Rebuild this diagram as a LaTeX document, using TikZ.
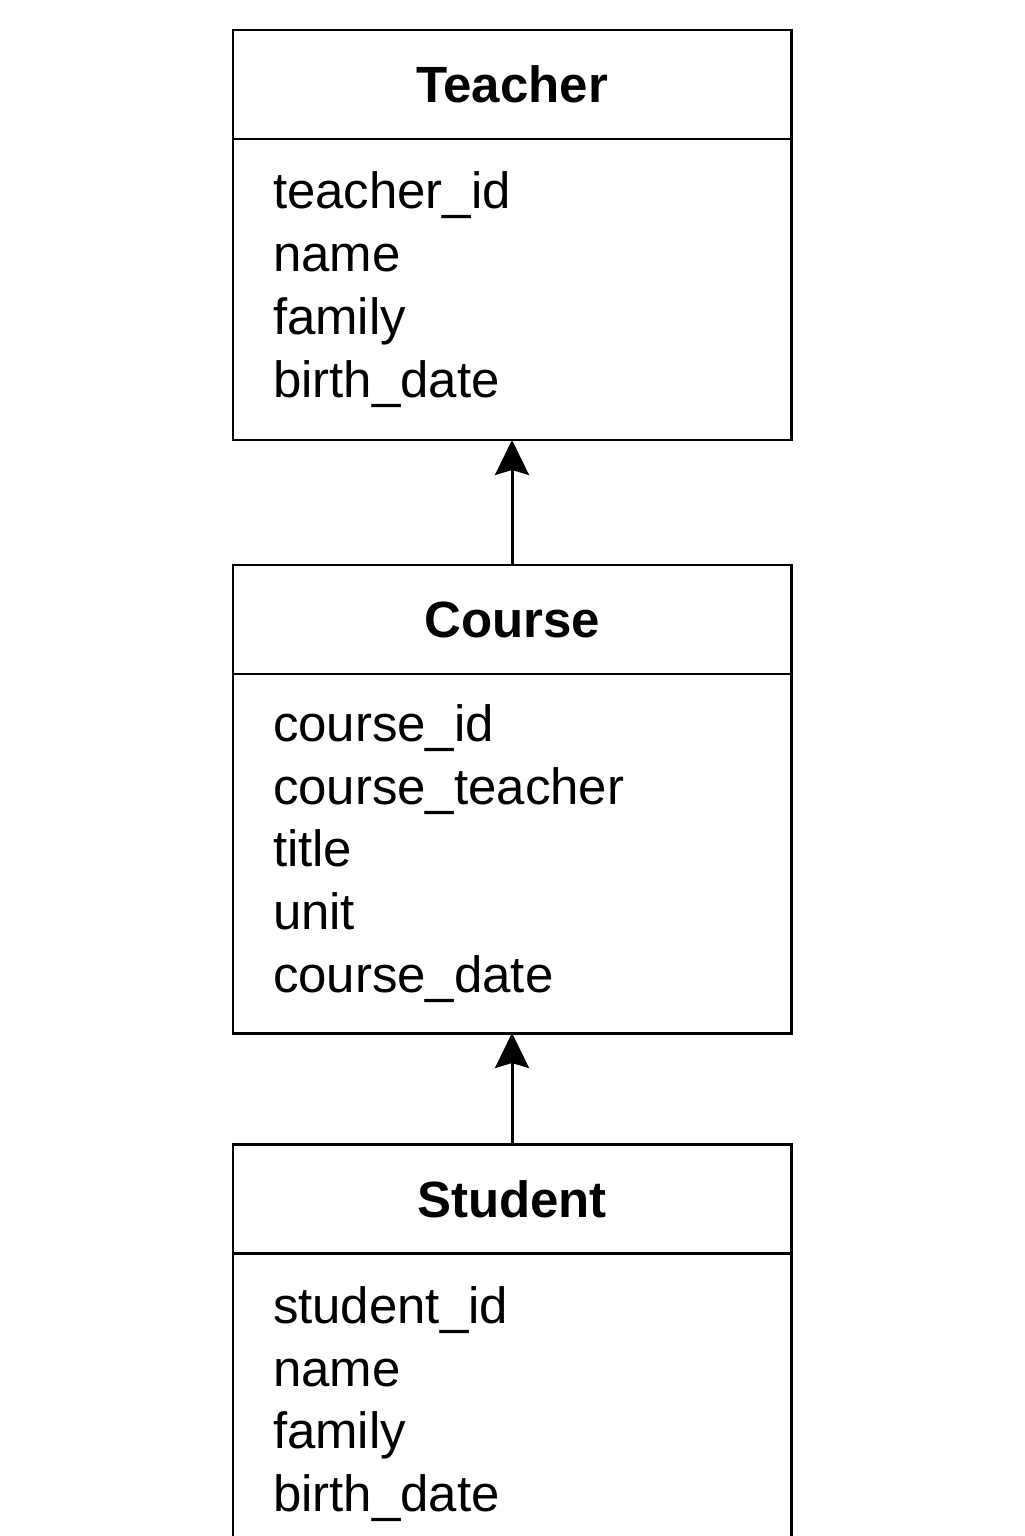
\documentclass[tikz,border=0pt]{standalone}
\usepackage{fontspec}
\setmainfont{Liberation Sans}
\usetikzlibrary{positioning,arrows.meta}

\begin{document}
\begin{tikzpicture}[x=1cm,y=1cm,
  classhead/.style={draw, rectangle, line width=1.7pt, outer sep=0pt, minimum width=11.16cm, minimum height=2.18cm, font=\fontsize{29}{35.7}\selectfont\bfseries},
  classbody/.style={draw, rectangle, line width=1.7pt, outer sep=0pt, inner xsep=0.8cm, text width=9.56cm, align=left, font=\fontsize{29}{35.7}\selectfont},
  link/.style={-{Stealth[length=0.7cm, width=0.68cm, inset=0.1cm]}, line width=1.7pt}]
\useasboundingbox (0,0) rectangle (20.48,-30.72);
\clip (0,0) rectangle (20.48,-30.72);

\node[classhead] (th) at (10.24,-1.69) {Teacher};
\node[classbody, minimum height=6.02cm, below=0pt of th] (tb) {teacher\_id\\name\\family\\birth\_date};

\node[classhead] (ch) at (10.24,-12.39) {Course};
\node[classbody, minimum height=7.18cm, below=0pt of ch] (cb) {course\_id\\course\_teacher\\title\\unit\\course\_date};

\node[classhead] (sh) at (10.24,-23.98) {Student};
\node[classbody, minimum height=6.02cm, below=0pt of sh] (sb) {student\_id\\name\\family\\birth\_date};

\draw[link] (ch.north) -- (tb.south);
\draw[link] (sh.north) -- (cb.south);
\end{tikzpicture}
\end{document}
